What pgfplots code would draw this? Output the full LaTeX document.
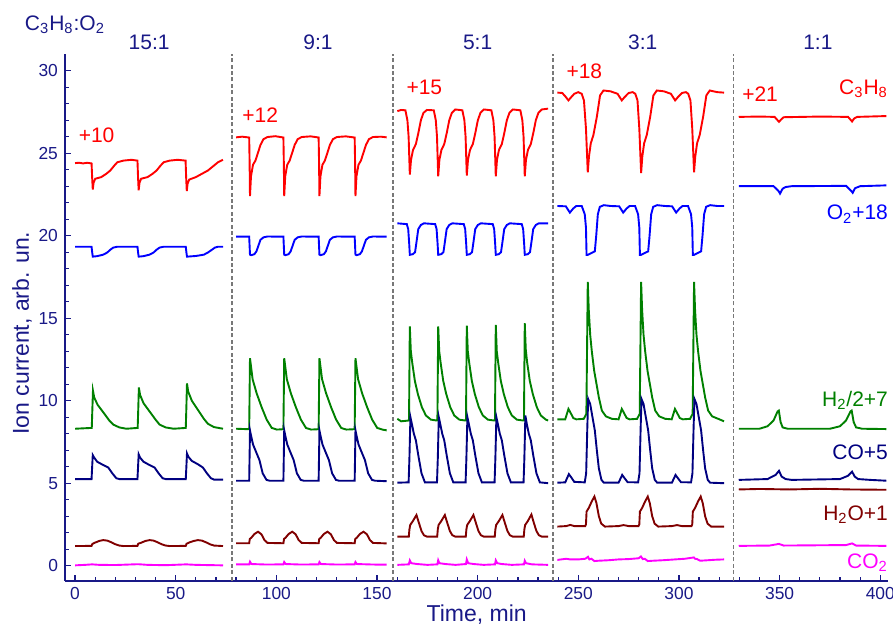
\documentclass[border=0pt]{standalone}
\usepackage{fontspec}
\setmainfont{Liberation Sans}
\usepackage{pgfplots}
\pgfplotsset{compat=1.18}
\definecolor{txt}{RGB}{25,25,135}
\definecolor{cC}{RGB}{255,0,0}
\definecolor{cO}{RGB}{0,0,255}
\definecolor{cH}{RGB}{0,128,0}
\definecolor{cCO}{RGB}{0,0,128}
\definecolor{cW}{RGB}{128,0,0}
\definecolor{cZ}{RGB}{255,0,255}
\definecolor{dgray}{RGB}{120,120,120}
\begin{document}
\begin{tikzpicture}
\useasboundingbox (-32.5pt,-25.2pt) rectangle (414.05pt,290.3pt);
\begin{axis}[
 at={(0pt,0pt)}, anchor=south west,
 scale only axis, width=411.7pt, height=263.2pt,
 xmin=-5, xmax=404, ymin=-0.9, ymax=31,
 axis lines=left,
 axis line style={-, draw=txt, line width=1pt},
 every outer x axis line/.append style={-},
 every outer y axis line/.append style={-},
 tick align=inside,
 xtick={0,50,...,400}, ytick={0,5,...,30},
 minor x tick num=4, minor y tick num=4,
 major tick length=3pt, minor tick length=2pt,
 tick style={draw=txt, line width=0.6pt},
 tick label style={font=\fontsize{8.7}{10}\selectfont, text=txt},
 /pgf/number format/assume math mode=true,
 clip=false,
 every axis plot/.append style={line width=0.95pt, mark=none},
]
% dashed separators
\addplot[dgray, line width=0.7pt, dash pattern=on 2pt off 1.2pt] coordinates {(78,-0.9) (78,31)};
\addplot[dgray, line width=0.7pt, dash pattern=on 2pt off 1.2pt] coordinates {(158,-0.9) (158,31)};
\addplot[dgray, line width=0.7pt, dash pattern=on 2pt off 1.2pt] coordinates {(237.5,-0.9) (237.5,31)};
\addplot[dgray, line width=0.7pt, dash pattern=on 2pt off 1.2pt] coordinates {(327,-0.9) (327,31)};

% ===== Section 1 (15:1)
\addplot[cC] coordinates {(0,24.4) (2,24.42) (4,24.38) (6,24.42) (8.2,24.38) (8.5,23.5) (8.8,22.8) (9.2,23.2) (10,23.45) (13,23.55) (15.5,23.75) (17.5,23.95) (19.5,24.25) (21,24.45) (24,24.55) (28,24.6) (31.0,24.55) (31.3,23.5) (31.6,22.75) (32,23.2) (32.8,23.45) (36,23.55) (38.5,23.75) (40.5,23.95) (42.5,24.25) (44,24.45) (47,24.55) (51,24.6) (54.9,24.55) (55.2,23.5) (55.5,22.7) (55.9,23.15) (56.7,23.4) (60,23.55) (63,23.75) (66,23.95) (68.5,24.2) (71,24.45) (73.5,24.6)};
\addplot[cO] coordinates {(0,19.33) (8.2,19.33) (8.5,19.0) (8.8,18.73) (11,18.76) (14,18.85) (16,18.98) (17.5,19.15) (19,19.28) (21,19.33) (31.0,19.33) (31.3,19.0) (31.6,18.73) (34,18.76) (37,18.85) (39,18.98) (40.5,19.15) (42,19.28) (44,19.33) (55.0,19.33) (55.3,19.0) (55.6,18.73) (60,18.77) (64,18.85) (66,18.98) (68,19.15) (69.5,19.28) (71,19.33) (73.5,19.33)};
\addplot[cH] coordinates {(0,8.3) (8.3,8.35) (8.6,9.5) (8.9,10.6) (9.5,10.2) (11.2,9.75) (14,9.3) (17,8.8) (19,8.55) (22,8.38) (25.5,8.3) (31.1,8.35) (31.4,9.5) (31.7,10.8) (32.3,10.35) (34,9.85) (37,9.35) (40,8.85) (42,8.55) (45,8.38) (49,8.3) (55,8.35) (55.3,9.6) (55.6,11.05) (56.2,10.55) (58,10.0) (61,9.45) (64,8.9) (66,8.6) (69,8.4) (73.5,8.3)};
\addplot[cCO] coordinates {(0,5.25) (8.2,5.25) (8.5,6.0) (8.8,6.7) (9.5,6.55) (11,6.3) (14,6.1) (16.5,5.95) (18.5,5.6) (20.5,5.3) (22,5.25) (31.0,5.25) (31.3,6.0) (31.6,6.75) (32.3,6.55) (34,6.3) (37,6.1) (39.5,5.95) (41.5,5.6) (43.5,5.3) (45,5.25) (55.0,5.25) (55.3,6.0) (55.6,6.8) (56.3,6.6) (58,6.35) (61,6.15) (63.5,5.95) (65.5,5.6) (67.5,5.3) (69,5.22) (73.5,5.22)};
\addplot[cW] coordinates {(0,1.19) (8.2,1.2) (8.6,1.32) (10,1.4) (12,1.5) (14,1.55) (16,1.52) (18,1.42) (20,1.3) (22,1.22) (24,1.19) (31,1.2) (31.4,1.33) (33,1.4) (35,1.5) (37,1.55) (39,1.52) (41,1.42) (43,1.3) (45,1.22) (47,1.19) (55,1.2) (55.4,1.33) (57,1.42) (59,1.5) (61,1.55) (63,1.52) (65,1.42) (67,1.3) (69,1.22) (73.5,1.19)};
\addplot[cZ] coordinates {(0,0.02) (5,0.05) (8.5,0.08) (12,0.05) (20,0.04) (31.3,0.09) (36,0.05) (45,0.03) (55.2,0.08) (60,0.05) (73.5,0.02)};

% ===== Section 2 (9:1)
\addplot[cC] coordinates {(80,25.96) (83,26.0) (86.5,25.95) (86.7,24.5) (86.9,22.4) (87.4,23.6) (88.4,24.3) (89.6,24.55) (90.8,25.0) (92.1,25.5) (93.6,25.85) (95.6,25.98) (99.5,26.03) (103.5,25.95) (103.7,24.5) (103.9,22.4) (104.4,23.6) (105.4,24.3) (106.6,24.55) (107.8,25.0) (109.1,25.5) (110.6,25.85) (112.6,25.98) (117,26.02) (121.0,25.95) (121.2,24.5) (121.4,22.4) (121.9,23.6) (122.9,24.3) (124.1,24.55) (125.3,25.0) (126.6,25.5) (128.1,25.85) (130.1,25.98) (134.5,26.02) (138.9,25.95) (139.1,24.5) (139.3,22.4) (139.8,23.6) (140.8,24.3) (142.0,24.55) (143.2,25.0) (144.5,25.5) (146.0,25.85) (148.0,25.98) (152,26.0) (154.8,25.96)};
\addplot[cO] coordinates {(80,19.94) (86.5,19.94) (86.9,18.85) (87.5,18.82) (89.1,18.88) (90.1,19.05) (91.1,19.4) (92.1,19.75) (93.6,19.9) (95.6,19.95) (103.5,19.94) (103.9,18.85) (104.5,18.82) (106.1,18.88) (107.1,19.05) (108.1,19.4) (109.1,19.75) (110.6,19.9) (112.6,19.95) (121.0,19.94) (121.4,18.85) (122.0,18.82) (123.6,18.88) (124.6,19.05) (125.6,19.4) (126.6,19.75) (128.1,19.9) (130.1,19.95) (138.9,19.94) (139.3,18.85) (139.9,18.82) (141.5,18.88) (142.5,19.05) (143.5,19.4) (144.5,19.75) (146.0,19.9) (148.0,19.95) (154.8,19.94)};
\addplot[cH] coordinates {(80,8.3) (86.5,8.27) (86.9,12.57) (88.2,11.3) (90.2,10.45) (92.7,9.6) (95.2,8.85) (97.7,8.35) (100.2,8.25) (103.5,8.27) (103.9,12.57) (105.2,11.3) (107.2,10.45) (109.7,9.6) (112.2,8.85) (114.7,8.35) (117.2,8.25) (121.0,8.27) (121.4,12.57) (122.7,11.3) (124.7,10.45) (127.2,9.6) (129.7,8.85) (132.2,8.35) (134.7,8.25) (138.9,8.27) (139.3,12.57) (140.6,11.3) (142.6,10.45) (145.1,9.6) (147.6,8.85) (150.1,8.35) (152.6,8.25) (154.8,8.2)};
\addplot[cCO] coordinates {(80,5.15) (86.5,5.15) (86.75,7.0) (86.9,8.2) (87.4,7.9) (88.4,7.35) (89.9,6.9) (91.6,6.4) (93.2,5.6) (95.1,5.2) (96.6,5.15) (103.5,5.15) (103.75,7.0) (103.9,8.2) (104.4,7.9) (105.4,7.35) (106.9,6.9) (108.6,6.4) (110.2,5.6) (112.1,5.2) (113.6,5.15) (121.0,5.15) (121.25,7.0) (121.4,8.2) (121.9,7.9) (122.9,7.35) (124.4,6.9) (126.1,6.4) (127.7,5.6) (129.6,5.2) (131.1,5.15) (138.9,5.15) (139.15,7.0) (139.3,8.2) (139.8,7.9) (140.8,7.35) (142.3,6.9) (144.0,6.4) (145.6,5.6) (147.5,5.2) (149.0,5.15) (154.8,5.12)};
\addplot[cW] coordinates {(80,1.36) (86.5,1.36) (86.8,1.62) (87.6,1.7) (89.1,1.92) (90.9,2.06) (92.6,1.9) (94.1,1.55) (95.6,1.38) (103.5,1.36) (103.8,1.62) (104.6,1.7) (106.1,1.92) (107.9,2.06) (109.6,1.9) (111.1,1.55) (112.6,1.38) (121.0,1.36) (121.3,1.62) (122.1,1.7) (123.6,1.92) (125.4,2.06) (127.1,1.9) (128.6,1.55) (130.1,1.38) (138.9,1.36) (139.2,1.62) (140.0,1.7) (141.5,1.92) (143.3,2.06) (145.0,1.9) (146.5,1.55) (148.0,1.38) (154.8,1.35)};
\addplot[cZ] coordinates {(80,0.08) (86.5,0.08) (86.9,0.24) (87.6,0.1) (95,0.07) (103.5,0.08) (103.9,0.22) (104.6,0.1) (112,0.07) (121.0,0.08) (121.4,0.22) (122.1,0.1) (130,0.07) (138.9,0.08) (139.3,0.22) (140,0.1) (148,0.07) (154.8,0.06)};

% ===== Section 3 (5:1)
\addplot[cC] coordinates {(160.1,27.55) (162,27.62) (164.1,27.6) (165.1,27.0) (165.7,26.0) (166.3,23.7) (166.9,24.6) (167.9,25.2) (169.3,25.55) (170.5,26.2) (171.8,27.0) (173.1,27.45) (174.8,27.62) (178.2,27.6) (179.2,27.0) (179.8,26.0) (180.4,23.6) (181.0,24.6) (182.0,25.2) (183.4,25.55) (184.6,26.2) (185.9,27.0) (187.2,27.45) (188.9,27.65) (192.4,27.6) (193.4,27.0) (194.0,26.0) (194.6,23.65) (195.2,24.6) (196.2,25.2) (197.6,25.55) (198.8,26.2) (200.1,27.0) (201.4,27.45) (203.1,27.65) (206.8,27.6) (207.8,27.0) (208.4,26.0) (209.0,23.6) (209.6,24.6) (210.6,25.2) (212.0,25.55) (213.2,26.2) (214.5,27.0) (215.8,27.45) (217.5,27.65) (221.2,27.6) (222.2,27.0) (222.8,26.0) (223.4,23.6) (224.0,24.6) (225.0,25.2) (226.4,25.55) (227.6,26.2) (228.9,27.0) (230.2,27.45) (231.9,27.65) (235,27.7)};
\addplot[cO] coordinates {(160.1,20.75) (164.8,20.7) (165.5,20.4) (166.0,19.5) (166.3,18.84) (167.8,18.88) (168.9,19.0) (169.6,19.6) (170.5,20.4) (171.8,20.65) (173.3,20.75) (178.9,20.7) (179.6,20.4) (180.1,19.5) (180.4,18.84) (181.9,18.88) (183.0,19.0) (183.7,19.6) (184.6,20.4) (185.9,20.65) (187.4,20.75) (193.1,20.7) (193.8,20.4) (194.3,19.5) (194.6,18.84) (196.1,18.88) (197.2,19.0) (197.9,19.6) (198.8,20.4) (200.1,20.65) (201.6,20.75) (207.5,20.7) (208.2,20.4) (208.7,19.5) (209.0,18.84) (210.5,18.88) (211.6,19.0) (212.3,19.6) (213.2,20.4) (214.5,20.65) (216.0,20.75) (221.9,20.7) (222.6,20.4) (223.1,19.5) (223.4,18.84) (224.9,18.88) (226.0,19.0) (226.7,19.6) (227.6,20.4) (228.9,20.65) (230.4,20.75) (235,20.75)};
\addplot[cH] coordinates {(160.1,8.9) (162,8.75) (165.9,8.8) (166.3,14.5) (166.8,13.0) (167.5,12.3) (168.8,11.2) (170.3,10.4) (172.3,9.6) (174.3,9.1) (176.8,8.85) (179.5,8.8) (180.0,8.8) (180.4,14.5) (180.9,13.0) (181.6,12.3) (182.9,11.2) (184.4,10.4) (186.4,9.6) (188.4,9.1) (190.9,8.85) (193.7,8.8) (194.2,8.8) (194.6,14.55) (195.1,13.0) (195.8,12.3) (197.1,11.2) (198.6,10.4) (200.6,9.6) (202.6,9.1) (205.1,8.85) (208.1,8.8) (208.6,8.8) (209.0,14.6) (209.5,13.0) (210.2,12.3) (211.5,11.2) (213.0,10.4) (215.0,9.6) (217.0,9.1) (219.5,8.85) (222.5,8.8) (223.0,8.8) (223.4,14.7) (223.9,13.1) (224.6,12.3) (225.9,11.2) (227.4,10.4) (229.4,9.6) (231.4,9.1) (233.9,8.85) (235,8.8)};
\addplot[cCO] coordinates {(160.1,5.03) (165.7,5.05) (166.1,6.5) (166.6,9.0) (167.3,8.6) (168.3,8.0) (169.3,7.6) (170.5,6.7) (172.1,5.6) (173.8,5.05) (179.8,5.05) (180.2,6.5) (180.7,9.0) (181.4,8.6) (182.4,8.0) (183.4,7.6) (184.6,6.7) (186.2,5.6) (187.9,5.05) (194.0,5.05) (194.4,6.5) (194.9,9.0) (195.6,8.6) (196.6,8.0) (197.6,7.6) (198.8,6.7) (200.4,5.6) (202.1,5.05) (208.4,5.05) (208.8,6.5) (209.3,9.0) (210.0,8.6) (211.0,8.0) (212.0,7.6) (213.2,6.7) (214.8,5.6) (216.5,5.05) (222.8,5.05) (223.2,6.5) (223.7,9.1) (224.4,8.6) (225.4,8.0) (226.4,7.6) (227.6,6.7) (229.2,5.6) (230.9,5.05) (235,5.0)};
\addplot[cW] coordinates {(160.1,1.76) (165.8,1.76) (166.1,2.2) (166.5,2.47) (167.8,2.7) (169.6,3.07) (170.8,2.6) (172.1,2.1) (173.3,1.85) (174.8,1.76) (179.9,1.76) (180.2,2.2) (180.6,2.47) (181.9,2.7) (183.7,3.07) (184.9,2.6) (186.2,2.1) (187.4,1.85) (188.9,1.76) (194.1,1.76) (194.4,2.2) (194.8,2.47) (196.1,2.7) (197.9,3.07) (199.1,2.6) (200.4,2.1) (201.6,1.85) (203.1,1.76) (208.5,1.76) (208.8,2.2) (209.2,2.47) (210.5,2.7) (212.3,3.07) (213.5,2.6) (214.8,2.1) (216.0,1.85) (217.5,1.76) (222.9,1.76) (223.2,2.2) (223.6,2.47) (224.9,2.7) (226.7,3.1) (227.9,2.6) (229.2,2.1) (230.4,1.85) (231.9,1.76) (235,1.76)};
\addplot[cZ] coordinates {(160.1,0.05) (165.8,0.08) (166.3,0.32) (167,0.15) (170,0.1) (175,0.05) (180.0,0.08) (180.4,0.33) (181,0.15) (184,0.1) (189,0.05) (194.2,0.1) (194.6,0.38) (195.3,0.15) (198,0.1) (203,0.05) (208.6,0.08) (209,0.32) (209.7,0.15) (212,0.1) (217,0.05) (223,0.08) (223.4,0.3) (224,0.15) (227,0.08) (235,0.05)};

% ===== Section 4 (3:1)
\addplot[cC] coordinates {(239.6,28.67) (242,28.65) (243.5,28.45) (245.1,28.2) (246.5,28.4) (248,28.6) (250,28.7) (251.7,28.6) (252.8,28.2) (253.8,26.5) (254.7,23.84) (255.3,24.8) (256.2,25.6) (257.5,26.1) (259.2,27.2) (260.8,28.5) (262.5,28.8) (266,28.75) (269.5,28.6) (271.6,28.2) (273,28.4) (275,28.65) (277,28.7) (278.3,28.6) (279.4,28.2) (280.3,26.5) (281.2,23.8) (281.8,24.8) (282.7,25.6) (284,26.1) (285.7,27.2) (287.3,28.5) (289,28.8) (292.5,28.75) (296,28.6) (298.1,28.2) (299.5,28.4) (301.5,28.65) (303.5,28.7) (304.6,28.6) (305.7,28.2) (306.6,26.5) (307.5,23.84) (308.1,24.8) (309,25.6) (310.3,26.1) (312,27.2) (313.6,28.5) (315.3,28.8) (319,28.7) (322.4,28.67)};
\addplot[cO] coordinates {(239.6,21.8) (243.8,21.78) (245.8,21.4) (247.5,21.65) (249,21.8) (251.7,21.8) (253.2,21.3) (253.8,20.5) (254.1,18.84) (254.7,18.84) (258.2,19.05) (258.9,20.0) (259.7,21.3) (260.7,21.75) (262.7,21.85) (266,21.8) (270.3,21.78) (272.3,21.4) (274,21.65) (275.5,21.8) (278.2,21.8) (279.7,21.3) (280.3,20.5) (280.6,18.84) (281.2,18.84) (284.7,19.05) (285.4,20.0) (286.2,21.3) (287.2,21.75) (289.2,21.85) (293,21.8) (296.6,21.78) (298.6,21.4) (300.3,21.65) (301.8,21.8) (304.5,21.8) (306.0,21.3) (306.6,20.5) (306.9,18.84) (307.5,18.84) (311.0,19.05) (311.7,20.0) (312.5,21.3) (313.5,21.75) (315.5,21.85) (319,21.8) (322.4,21.8)};
\addplot[cH] coordinates {(239.6,8.87) (243.5,8.87) (245.1,9.5) (246,9.3) (247.5,8.95) (249,8.87) (252.7,8.9) (254.0,9.2) (254.7,17.2) (255.2,15.5) (255.9,14.0) (256.7,13.0) (257.9,11.8) (259.2,10.9) (260.2,10.2) (261.7,9.4) (263.7,9.05) (266.7,8.9) (270,8.87) (271.6,9.5) (272.5,9.3) (274,8.95) (275.5,8.87) (279.2,8.9) (280.5,9.2) (281.2,17.2) (281.7,15.5) (282.4,14.0) (283.2,13.0) (284.4,11.8) (285.7,10.9) (286.7,10.2) (288.2,9.4) (290.2,9.05) (293.2,8.9) (296.4,8.87) (298.0,9.5) (298.9,9.3) (300.4,8.95) (301.9,8.87) (305.5,8.9) (306.8,9.2) (307.5,17.2) (308.0,15.5) (308.7,14.0) (309.5,13.0) (310.7,11.8) (312.0,10.9) (313.0,10.2) (314.5,9.4) (316.5,9.05) (319.5,8.9) (322.4,8.75)};
\addplot[cCO] coordinates {(239.6,5.03) (243.5,5.05) (245.3,5.55) (246.5,5.35) (248,5.08) (253.2,5.05) (253.9,5.6) (254.5,8.5) (254.9,10.1) (255.9,9.8) (256.9,9.1) (258.2,8.2) (259.2,7.0) (260.2,5.9) (261.5,5.2) (262.7,5.03) (270,5.03) (271.8,5.5) (273,5.3) (274.5,5.06) (279.7,5.05) (280.4,5.6) (281.0,8.5) (281.4,10.1) (282.4,9.8) (283.4,9.1) (284.7,8.2) (285.7,7.0) (286.7,5.9) (288.0,5.2) (289.2,5.03) (296.5,5.03) (298.3,5.5) (299.5,5.3) (301,5.06) (306.0,5.05) (306.7,5.6) (307.3,8.5) (307.7,10.1) (308.7,9.8) (309.7,9.1) (311.0,8.2) (312.0,7.0) (313.0,5.9) (314.3,5.2) (315.5,5.03) (322.4,5.0)};
\addplot[cW] coordinates {(239.6,2.37) (244,2.4) (246,2.47) (248,2.4) (253.4,2.4) (253.8,2.5) (254.1,3.28) (255.2,3.5) (256.7,3.9) (258.0,4.19) (259.0,3.8) (260.2,3.0) (261.4,2.55) (263.2,2.37) (270,2.4) (272.5,2.46) (275,2.4) (279.9,2.4) (280.3,2.5) (280.6,3.28) (281.7,3.5) (283.2,3.9) (284.5,4.19) (285.5,3.8) (286.7,3.0) (287.9,2.55) (289.7,2.37) (296.5,2.4) (299,2.46) (301.5,2.4) (306.2,2.4) (306.6,2.5) (306.9,3.28) (308.0,3.5) (309.5,3.9) (310.8,4.19) (311.8,3.8) (313.0,3.0) (314.2,2.55) (316.0,2.37) (322.4,2.37)};
\addplot[cZ] coordinates {(239.6,0.35) (244,0.42) (246,0.38) (250,0.38) (253.5,0.42) (254.8,0.54) (255.5,0.38) (256.5,0.42) (258,0.28) (260,0.3) (265,0.33) (270,0.38) (275,0.4) (280,0.45) (281.1,0.56) (282,0.4) (283,0.42) (284.5,0.28) (287,0.3) (292,0.33) (298,0.38) (303,0.42) (307.4,0.5) (308,0.42) (309,0.4) (310.5,0.3) (313,0.32) (318,0.36) (322.4,0.38)};

% ===== Section 5 (1:1)
\addplot[cC] coordinates {(329.7,27.2) (340,27.22) (347.5,27.2) (349.7,26.9) (350.8,27.05) (352,27.18) (370,27.22) (384,27.2) (386,26.92) (387,27.1) (388.5,27.2) (403,27.25)};
\addplot[cO] coordinates {(329.7,23.0) (347,23.0) (349.5,22.7) (350.2,22.55) (351.5,22.85) (353,22.95) (356,23.0) (383,23.02) (385.7,22.7) (386.3,22.6) (387.5,22.88) (390,23.0) (403,23.05)};
\addplot[cH] coordinates {(329.7,8.3) (340,8.3) (344,8.45) (347,8.8) (349,9.35) (349.6,9.4) (350.5,8.7) (351.5,8.38) (354,8.3) (375,8.3) (380,8.45) (383,8.8) (385.2,9.35) (385.8,9.4) (386.8,8.7) (388,8.38) (391,8.3) (403,8.28)};
\addplot[cCO] coordinates {(329.7,5.2) (344,5.25) (348,5.5) (349.7,5.75) (351,5.4) (353,5.25) (356,5.2) (380,5.25) (384,5.45) (386,5.7) (387.3,5.4) (389,5.25) (395,5.2) (403,5.15)};
\addplot[cW] coordinates {(329.7,4.62) (340,4.65) (355,4.62) (370,4.66) (385,4.62) (403,4.6)};
\addplot[cZ] coordinates {(329.7,1.2) (345,1.22) (349.7,1.32) (352,1.22) (383,1.25) (386,1.35) (388,1.22) (403,1.2)};

% ===== Texts
\begin{scope}[every node/.style={font=\fontsize{10.5}{12}\selectfont, inner sep=0pt}]
\node[text=cC] at (axis cs:10.7,26.1) {+10};
\node[text=cC] at (axis cs:92,27.3) {+12};
\node[text=cC] at (axis cs:173.5,29.0) {+15};
\node[text=cC] at (axis cs:253,29.95) {+18};
\node[text=cC] at (axis cs:340.3,28.6) {+21};
\node[text=cC, anchor=east] at (axis cs:404,28.9) {C\textsubscript{3}H\textsubscript{8}};
\node[text=cO, anchor=east] at (axis cs:404,21.3) {O\textsubscript{2}+18};
\node[text=cH, anchor=east] at (axis cs:404,10.0) {H\textsubscript{2}/2+7};
\node[text=cCO, anchor=east] at (axis cs:404,6.9) {CO+5};
\node[text=cW, anchor=east] at (axis cs:404,3.1) {H\textsubscript{2}O+1};
\node[text=cZ, anchor=east] at (axis cs:404,0.2) {CO\textsubscript{2}};
\node[text=txt] at (axis cs:36.8,31.73) {15:1};
\node[text=txt] at (axis cs:120.7,31.73) {9:1};
\node[text=txt] at (axis cs:200,31.73) {5:1};
\node[text=txt] at (axis cs:282,31.73) {3:1};
\node[text=txt] at (axis cs:369,31.73) {1:1};
\node[text=txt] at ([yshift=14.6pt]rel axis cs:0,1) {C\textsubscript{3}H\textsubscript{8}:O\textsubscript{2}};
\node[text=txt, font=\fontsize{11.5}{13}\selectfont] at ([yshift=-17pt]rel axis cs:0.5,0) {Time, min};
\node[text=txt, font=\fontsize{11.5}{13}\selectfont, rotate=90] at ([xshift=-21.5pt]rel axis cs:0,0.47) {Ion current, arb. un.};
\end{scope}
\end{axis}
\end{tikzpicture}
\end{document}
